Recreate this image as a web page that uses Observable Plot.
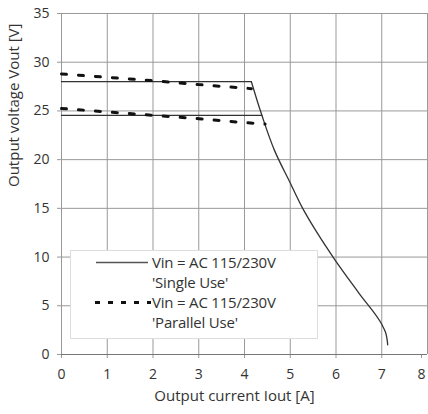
<!DOCTYPE html>
<html>
<head>
<meta charset="utf-8">
<script src="https://cdn.jsdelivr.net/npm/d3@7"></script>
<script src="https://cdn.jsdelivr.net/npm/@observablehq/plot@0.6"></script>
<style>
  body { margin: 0; background: #fff; font-family: "Open Sans", sans-serif; }
  #wrap { position: relative; width: 428px; height: 414px; }
  #legend { position: absolute; left: 70px; top: 250px; width: 248px; height: 89px;
            background: #fff; border: 1px solid #ddd; box-sizing: border-box;
            font-size: 15px; color: #333; }
  .row { position: absolute; left: 0; height: 20px; line-height: 20px; width: 246px; }
  .row svg { position: absolute; left: 24px; top: 0; }
  .row span { position: absolute; left: 81px; white-space: nowrap; letter-spacing: -0.2px; }
</style>
</head>
<body>
<div id="wrap"></div>
<script>
// ---- data ----
const xTicks = [0, 1, 2, 3, 4, 5, 6, 7, 8];
const yTicks = [0, 5, 10, 15, 20, 25, 30, 35];
const xLabel = "Output current Iout [A]";
const yLabel = "Output voltage Vout [V]";
const legendLabels = ["Vin = AC 115/230V", "'Single Use'", "Vin = AC 115/230V", "'Parallel Use'"];

// Single use (solid)
const singleUpperX = [0, 4.15];
const singleUpperY = [28.0, 28.0];
const singleLowerX = [0, 4.38];
const singleLowerY = [24.55, 24.55];
const dropX = [4.15, 4.38, 4.66, 5.0, 5.26, 5.6, 5.95, 6.5, 7.0, 7.08, 7.13];
const dropY = [28.0, 24.55, 20.9, 17.6, 15.1, 12.4, 9.9, 6.3, 3.1, 2.3, 1.0];

// Parallel use (dashed)
const parUpperX = [0, 1, 2, 3, 4, 4.15];
const parUpperY = [28.8, 28.45, 28.1, 27.7, 27.35, 27.28];
const parLowerX = [0, 1, 2, 3, 4, 4.45];
const parLowerY = [25.25, 24.9, 24.55, 24.2, 23.8, 23.65];

const pts = (xs, ys) => xs.map((x, i) => ({x, y: ys[i]}));
const lastX = xTicks[xTicks.length - 1];

const plot = Plot.plot({
  width: 428,
  height: 414,
  marginLeft: 61,
  marginRight: 1,
  marginTop: 13,
  marginBottom: 60,
  style: {fontFamily: "'Open Sans', sans-serif", fontSize: "14px", color: "#333", background: "#fff"},
  x: {domain: [0, 8], ticks: xTicks, label: null},
  y: {domain: [0, 35], ticks: yTicks, label: null},
  marks: [
    Plot.gridX(xTicks, {stroke: "#999", strokeOpacity: 1, strokeWidth: 1}),
    Plot.gridY(yTicks, {stroke: "#999", strokeOpacity: 1, strokeWidth: 1}),
    Plot.axisX(xTicks.slice(0, -1), {tickSize: 4, tickPadding: 11, stroke: "#999", fontSize: 14, fill: "#333"}),
    Plot.axisX([lastX], {tickSize: 4, tickPadding: 11, stroke: "#999", fontSize: 14, fill: "#333", dx: -6}),
    Plot.axisY(yTicks, {tickSize: 4, tickPadding: 8, stroke: "#999", fontSize: 14, fill: "#333"}),
    Plot.ruleY([0], {stroke: "#777"}),
    Plot.line(pts(singleUpperX, singleUpperY), {x: "x", y: "y", stroke: "#333", strokeWidth: 1.3}),
    Plot.line(pts(singleLowerX, singleLowerY), {x: "x", y: "y", stroke: "#333", strokeWidth: 1.3}),
    Plot.line(pts(dropX, dropY), {x: "x", y: "y", stroke: "#333", strokeWidth: 1.3, curve: "monotone-y"}),
    Plot.line(pts(parUpperX, parUpperY), {x: "x", y: "y", stroke: "#111", strokeWidth: 3, strokeDasharray: "5,12"}),
    Plot.line(pts(parLowerX, parLowerY), {x: "x", y: "y", stroke: "#111", strokeWidth: 3, strokeDasharray: "5,12"}),
    Plot.text([xLabel], {frameAnchor: "bottom", dy: 46, dx: -10, fontSize: 15, fill: "#333"}),
    Plot.text([yLabel], {frameAnchor: "left", rotate: -90, dx: -47, dy: 3, fontSize: 15, fill: "#333"})
  ]
});
const wrap = document.getElementById("wrap");
wrap.appendChild(plot);

const legend = document.createElement("div");
legend.id = "legend";
const rows = [
  {top: 1, line: "solid", text: legendLabels[0]},
  {top: 21, line: null, text: legendLabels[1]},
  {top: 41, line: "dash", text: legendLabels[2]},
  {top: 61, line: null, text: legendLabels[3]}
];
for (const r of rows) {
  const d = document.createElement("div");
  d.className = "row";
  d.style.top = r.top + "px";
  let svg = "";
  if (r.line === "solid") svg = '<svg width="54" height="20"><line x1="1" x2="53" y1="10.5" y2="10.5" stroke="#555" stroke-width="1.3"/></svg>';
  if (r.line === "dash") svg = '<svg width="56" height="20"><line x1="0" x2="56" y1="10.5" y2="10.5" stroke="#111" stroke-width="3" stroke-dasharray="5,8"/></svg>';
  d.innerHTML = svg + '<span>' + r.text + '</span>';
  legend.appendChild(d);
}
wrap.appendChild(legend);
</script>
</body>
</html>
